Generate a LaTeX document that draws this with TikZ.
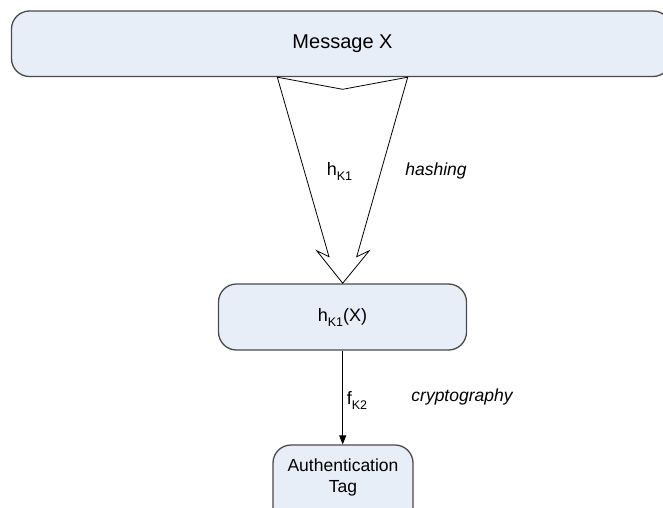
\documentclass[tikz,border=0pt]{standalone}
\usepackage{fontspec}
\setmainfont{Liberation Sans}
\usetikzlibrary{arrows.meta}
\definecolor{boxfill}{HTML}{E8EEF8}
\definecolor{boxline}{HTML}{4A4A4A}
\newcommand\sbs[1]{\raisebox{-0.28em}{\fontsize{12.5}{13}\selectfont #1}}
\tikzset{
  boxst/.style={draw=boxline, fill=boxfill, line width=1.3pt, rounded corners=18pt},
  txt/.style={inner sep=0pt, font=\fontsize{18}{21}\selectfont},
  lbl/.style={inner sep=0pt, font=\fontsize{17.5}{21}\selectfont\itshape},
}
\begin{document}
\begin{tikzpicture}[x=1pt,y=-1pt]
\useasboundingbox (0,0) rectangle (663,507);
% boxes
\draw[boxst] (11.5,11) rectangle (671,76.5);
\node[txt, font=\fontsize{20}{24}\selectfont] (msg) at (342.5,44) {Message X};
\draw[boxst] (218.5,284) rectangle (466.5,350);
\node[txt] (hx) at (342.5,317) {h\sbs{K1}(X)};
\draw[boxst] (273,445) rectangle (413,525);
\node[txt, align=center, font=\fontsize{17.5}{21}\selectfont] (tag) at (343,477.5) {Authentication\\Tag};
% big hollow arrow
\coordinate (aL) at (277.3,77.2);
\coordinate (aN) at (342.7,89.3);
\coordinate (aR) at (407.7,77.2);
\coordinate (aRi) at (356.7,256.7);
\coordinate (aRb) at (369.3,250.7);
\coordinate (aT) at (342.7,283.2);
\coordinate (aLb) at (316.7,250.7);
\coordinate (aLi) at (329,256.7);
\draw[line width=0.8pt, line join=miter] (aL) -- (aN) -- (aR) -- (aRi) -- (aRb) -- (aT) -- (aLb) -- (aLi) -- cycle;
% thin arrow
\coordinate (s1) at (342.7,350.6);
\coordinate (s2) at (342.7,444.4);
\draw[line width=0.9pt, -{Triangle[length=9pt,width=7pt]}] (s1) -- (s2);
% labels
\node[txt] (lh) at (339.5,171) {h\sbs{K1}};
\node[lbl] (lhash) at (436,171) {hashing};
\node[txt] (lf) at (357,400) {f\sbs{K2}};
\node[lbl] (lcry) at (462,397) {cryptography};
\end{tikzpicture}
\end{document}
